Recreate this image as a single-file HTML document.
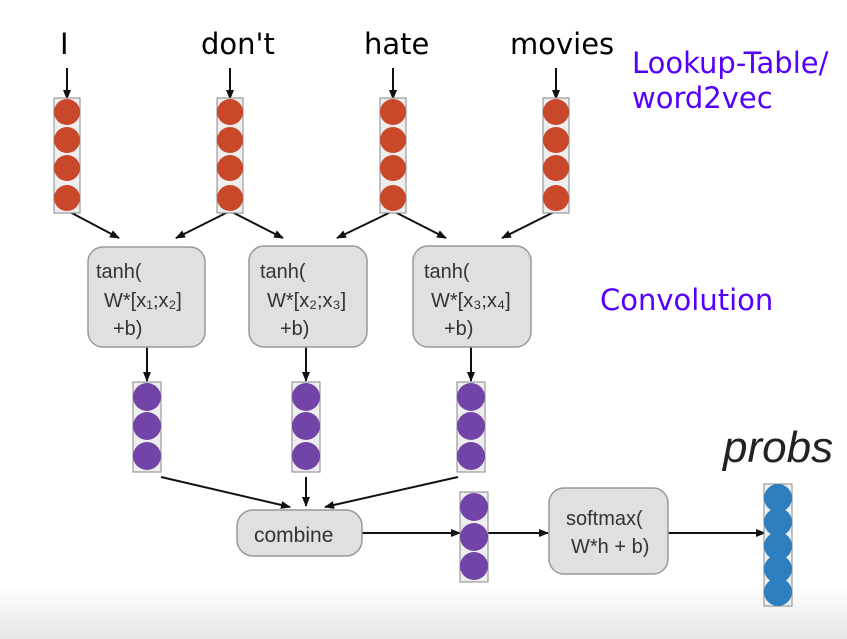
<!DOCTYPE html>
<html><head><meta charset="utf-8"><style>
html,body{margin:0;padding:0;background:#fff;}
svg{display:block;}
</style></head><body>
<svg width="847" height="639" viewBox="0 0 847 639" xmlns="http://www.w3.org/2000/svg">
<defs>
<linearGradient id="bg" x1="0" y1="0" x2="0" y2="1">
<stop offset="0" stop-color="#ffffff"/><stop offset="1" stop-color="#e6e6e6"/>
</linearGradient>
<marker id="ah" markerWidth="10" markerHeight="10" refX="9" refY="5" orient="auto" markerUnits="userSpaceOnUse">
<path d="M0,1 L10,5 L0,9 z" fill="#111"/>
</marker>
</defs>
<rect x="0" y="585" width="847" height="54" fill="url(#bg)"/>

<g font-family="DejaVu Sans, Liberation Sans, sans-serif" font-size="29" fill="#000">
<text x="60" y="54">I</text>
<text x="201" y="54">don't</text>
<text x="364" y="54">hate</text>
<text x="510" y="54">movies</text>
</g>
<g font-family="DejaVu Sans, Liberation Sans, sans-serif" font-size="29" fill="#5500ff">
<text x="632" y="73">Lookup-Table/</text>
<text x="632" y="108">word2vec</text>
<text x="600" y="310">Convolution</text>
</g>
<text x="723" y="462" font-family="Liberation Sans, sans-serif" font-style="italic" font-size="44" fill="#222">probs</text>

<g stroke="#111" stroke-width="2" fill="none" marker-end="url(#ah)">
<line x1="67" y1="68" x2="67" y2="99"/>
<line x1="230" y1="68" x2="230" y2="99"/>
<line x1="393" y1="68" x2="393" y2="99"/>
<line x1="556" y1="68" x2="556" y2="99"/>
<line x1="68" y1="211" x2="119" y2="238"/>
<line x1="230" y1="211" x2="176" y2="238"/>
<line x1="230" y1="211" x2="283" y2="238"/>
<line x1="393" y1="211" x2="337" y2="238"/>
<line x1="393" y1="211" x2="446" y2="238"/>
<line x1="556" y1="211" x2="502" y2="238"/>
<line x1="147" y1="347" x2="147" y2="381"/>
<line x1="306" y1="347" x2="306" y2="381"/>
<line x1="471" y1="347" x2="471" y2="381"/>
<line x1="161" y1="477" x2="290" y2="507"/>
<line x1="306" y1="477" x2="306" y2="506"/>
<line x1="458" y1="477" x2="325" y2="507"/>
<line x1="362" y1="533" x2="460" y2="533"/>
<line x1="488" y1="533" x2="548" y2="533"/>
<line x1="668" y1="533" x2="765" y2="533"/>
</g>

<g fill="#e0e0e0" stroke="#999" stroke-width="1.5">
<rect x="88" y="247" width="117" height="100" rx="15"/>
<rect x="249" y="246" width="118" height="101" rx="15"/>
<rect x="413" y="246" width="118" height="101" rx="15"/>
<rect x="237" y="510" width="125" height="46" rx="16"/>
<rect x="549" y="488" width="119" height="86" rx="15"/>
</g>
<g font-family="Liberation Sans, sans-serif" font-size="20" fill="#333">
<text x="96" y="278">tanh(</text><text x="104" y="307">W*[x₁;x₂]</text><text x="113" y="335">+b)</text>
<text x="260" y="278">tanh(</text><text x="267" y="307">W*[x₂;x₃]</text><text x="280" y="335">+b)</text>
<text x="424" y="278">tanh(</text><text x="431" y="307">W*[x₃;x₄]</text><text x="444" y="335">+b)</text>
<text x="254" y="542" font-size="21">combine</text>
<text x="566" y="525">softmax(</text><text x="571" y="553">W*h + b)</text>
</g>

<g stroke="#888" stroke-width="1" fill="#eee">
<rect x="54" y="98" width="26" height="115"/>
<rect x="217" y="98" width="26" height="115"/>
<rect x="380" y="98" width="26" height="115"/>
<rect x="543" y="98" width="26" height="115"/>
<rect x="133" y="382" width="28" height="90"/>
<rect x="292" y="382" width="28" height="90"/>
<rect x="457" y="382" width="28" height="90"/>
<rect x="460" y="492" width="28" height="90"/>
<rect x="764" y="484" width="28" height="122"/>
</g>
<g fill="#c9482a">
<circle cx="67" cy="112" r="13"/><circle cx="67" cy="140" r="13"/><circle cx="67" cy="168" r="13"/><circle cx="67" cy="198" r="13"/>
<circle cx="230" cy="112" r="13"/><circle cx="230" cy="140" r="13"/><circle cx="230" cy="168" r="13"/><circle cx="230" cy="198" r="13"/>
<circle cx="393" cy="112" r="13"/><circle cx="393" cy="140" r="13"/><circle cx="393" cy="168" r="13"/><circle cx="393" cy="198" r="13"/>
<circle cx="556" cy="112" r="13"/><circle cx="556" cy="140" r="13"/><circle cx="556" cy="168" r="13"/><circle cx="556" cy="198" r="13"/>
</g>
<g fill="#7244a8">
<circle cx="147" cy="397" r="14"/><circle cx="147" cy="426" r="14"/><circle cx="147" cy="456" r="14"/>
<circle cx="306" cy="397" r="14"/><circle cx="306" cy="426" r="14"/><circle cx="306" cy="456" r="14"/>
<circle cx="471" cy="397" r="14"/><circle cx="471" cy="426" r="14"/><circle cx="471" cy="456" r="14"/>
<circle cx="474" cy="507" r="14"/><circle cx="474" cy="537" r="14"/><circle cx="474" cy="566" r="14"/>
</g>
<g fill="#2e7fc0">
<circle cx="778" cy="498" r="14"/><circle cx="778" cy="522" r="14"/><circle cx="778" cy="546" r="14"/><circle cx="778" cy="569" r="14"/><circle cx="778" cy="592" r="14"/>
</g>
</svg>
</body></html>
